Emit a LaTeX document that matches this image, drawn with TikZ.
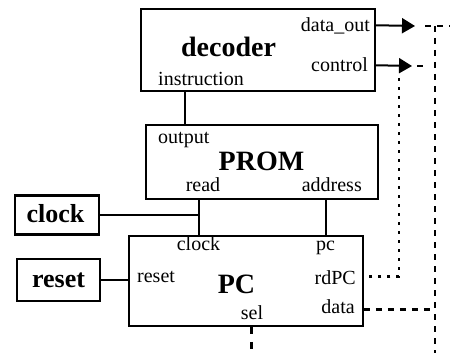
\documentclass[tikz,border=0pt]{standalone}
\usepackage{fontspec}
\setmainfont{Liberation Serif}
\usetikzlibrary{arrows.meta}
\tikzset{
  blk/.style={draw, line width=1.5pt, inner sep=0pt, minimum width=#1},
  ext/.style={draw, line width=2.6pt, inner sep=0pt},
  lbl/.style={inner sep=0pt, font=\fontsize{20}{22}\selectfont},
  ttl/.style={inner sep=0pt, font=\bfseries\fontsize{28}{30}\selectfont},
  etl/.style={inner sep=0pt, font=\bfseries\fontsize{26}{28}\selectfont},
  wire/.style={line width=2pt},
  dashwire/.style={line width=2.6pt, dash pattern=on 6pt off 6pt},
  dotwire/.style={line width=2.6pt, dash pattern=on 3pt off 6pt},
  tip/.style={-{Triangle[length=13pt,width=15pt]}}
}
\begin{document}
\begin{tikzpicture}[x=1pt,y=-1pt]
\useasboundingbox (0,0) rectangle (450,353);
\clip (0,0) rectangle (450,353);
% blocks
\node[blk=234pt, minimum height=82pt] (decoder) at (258,50) {};
\node[blk=232pt, minimum height=74pt] (PROM) at (262,162) {};
\node[blk=234pt, minimum height=90pt] (PC) at (246,281) {};
\node[ext, minimum width=84pt, minimum height=39pt] (clockbox) at (57,215) {};
\node[ext, minimum width=83pt, minimum height=42pt] (resetbox) at (58.5,280) {};
% decoder texts
\node[ttl, anchor=base] (tdec) at (228.5,57) {decoder};
\node[lbl, anchor=base east] (ldataout) at (370,32) {data\_out};
\node[lbl, anchor=base east] (lcontrol) at (368,71) {control};
\node[lbl, anchor=base west] (linstr) at (158,85) {instruction};
% PROM texts
\node[lbl, anchor=base west] (loutput) at (158,143) {output};
\node[ttl, anchor=base] (tprom) at (261.5,170) {PROM};
\node[lbl, anchor=base] (lread) at (203,191) {read};
\node[lbl, anchor=base east] (laddr) at (362,191) {address};
% PC texts
\node[lbl, anchor=base] (lclock) at (198.5,250) {clock};
\node[lbl, anchor=base west] (lpc) at (316,250) {pc};
\node[lbl, anchor=base west] (lreset) at (137,282) {reset};
\node[ttl, anchor=base] (tpc) at (236.5,293) {PC};
\node[lbl, anchor=base east] (lrdpc) at (356,284) {rdPC};
\node[lbl, anchor=base east] (ldata) at (355,313) {data};
\node[lbl, anchor=base] (lsel) at (252,319) {sel};
% external boxes texts
\node[etl, anchor=base] (tclock) at (55.5,222) {clock};
\node[etl, anchor=base] (treset) at (58.5,287) {reset};
% ports
\coordinate (instrport) at ([xshift=45pt]decoder.south west);
\coordinate (outport) at ([xshift=40pt]PROM.north west);
\coordinate (readport) at ([xshift=54pt]PROM.south west);
\coordinate (pcclk) at ([xshift=71pt]PC.north west);
\coordinate (addrport) at ([xshift=181pt]PROM.south west);
\coordinate (pcport) at ([xshift=198pt]PC.north west);
\coordinate (doport) at ([yshift=-17pt]decoder.north east);
\coordinate (ctport) at ([yshift=-57pt]decoder.north east);
\coordinate (rdport) at ([yshift=-41pt]PC.north east);
\coordinate (dataport) at ([yshift=-74pt]PC.north east);
\coordinate (selport) at ([xshift=123pt]PC.south west);
\coordinate (doend) at (415,26);
\coordinate (ctend) at (412,66);
\coordinate (busx) at (435,26);
\coordinate (rdx) at (399,78);
\coordinate (bottom) at (0,353);
\coordinate (rightedge) at (450,26);
% solid wires
\draw[wire] (instrport) -- (outport);
\draw[wire] (readport) -- (pcclk);
\draw[wire] (clockbox.east) -- (clockbox.east -| readport);
\draw[wire] (addrport) -- (pcport);
\draw[wire] (resetbox.east) -- (resetbox.east -| PC.west);
\draw[wire, tip] (doport) -- (doend);
\draw[wire, tip] (ctport) -- (ctend);
% dashed / dotted wires
\draw[dashwire] ([xshift=10pt]doend) -- (rightedge);
\draw[dashwire] (busx) -- (busx |- bottom);
\draw[dashwire] (dataport) -- (dataport -| busx);
\draw[dashwire, dash pattern=on 6pt off 20pt] ([xshift=5pt]ctend) -- ++(12,0);
\draw[dotwire] (rdx) -- (rdx |- rdport) -- (rdport);
\draw[dashwire, dash pattern=on 7pt off 8pt] (selport) -- (selport |- bottom);
\end{tikzpicture}
\end{document}
